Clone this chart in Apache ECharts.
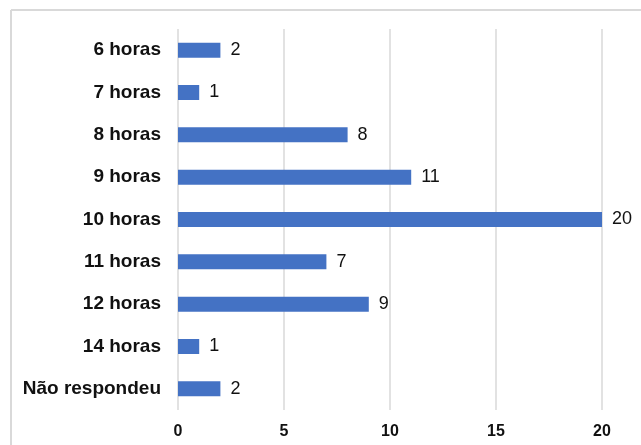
<!DOCTYPE html>
<html>
<head>
<meta charset="utf-8">
<script src="https://cdn.jsdelivr.net/npm/echarts@6/dist/echarts.min.js"></script>
<style>
  html, body { margin: 0; padding: 0; background: #fff; }
  #chart { width: 641px; height: 445px; }
</style>
</head>
<body>
<div id="chart"></div>
<script>
// Hours of sleep reported, one bar per answer
const categories = ['6 horas', '7 horas', '8 horas', '9 horas', '10 horas', '11 horas', '12 horas', '14 horas', 'Não respondeu'];
const counts = [2, 1, 8, 11, 20, 7, 9, 1, 2];
const xTicks = [0, 5, 10, 15, 20];

const chart = echarts.init(document.getElementById('chart'), null, { renderer: 'canvas' });

const font = 'Liberation Sans, Arial, sans-serif';

chart.setOption({
  animation: false,
  backgroundColor: '#ffffff',
  graphic: [
    { type: 'line', shape: { x1: 11, y1: 10, x2: 641, y2: 10 }, style: { stroke: '#d9d9d9', lineWidth: 2 } },
    { type: 'line', shape: { x1: 11, y1: 10, x2: 11, y2: 445 }, style: { stroke: '#d9d9d9', lineWidth: 2 } }
  ],
  grid: { left: 178, right: 39, top: 29, bottom: 35, containLabel: false },
  xAxis: {
    type: 'value',
    min: xTicks[0],
    max: xTicks[xTicks.length - 1],
    interval: 5,
    axisLine: { show: false },
    axisTick: { show: false },
    splitLine: { show: true, lineStyle: { color: '#d9d9d9', width: 1.5 } },
    axisLabel: { color: '#111111', fontFamily: font, fontWeight: 'bold', fontSize: 16, margin: 14 }
  },
  yAxis: {
    type: 'category',
    data: categories,
    inverse: true,
    axisLine: { show: false },
    axisTick: { show: false },
    axisLabel: { color: '#111111', fontFamily: font, fontWeight: 'bold', fontSize: 19, margin: 17 }
  },
  series: [{
    type: 'bar',
    data: counts,
    barWidth: 15,
    itemStyle: { color: '#4472C4' },
    label: {
      show: true,
      position: 'right',
      distance: 10,
      color: '#111111',
      fontFamily: font,
      fontSize: 18
    }
  }]
});
</script>
</body>
</html>
